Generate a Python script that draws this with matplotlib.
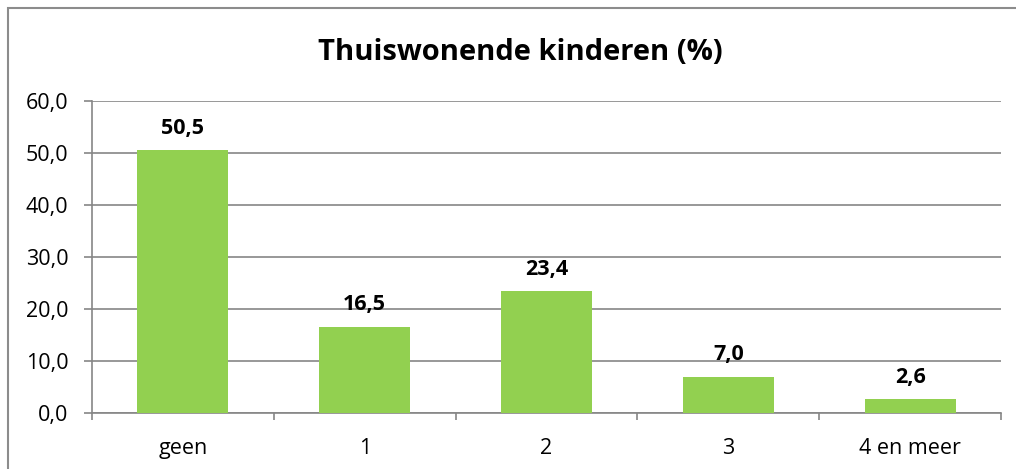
import matplotlib.pyplot as plt
from matplotlib.patches import Rectangle

categories = ['geen', '1', '2', '3', '4 en meer']
values = [50.5, 16.5, 23.4, 7.0, 2.6]
y_ticks = [0, 10, 20, 30, 40, 50, 60]

plt.rcParams['font.family'] = ['Open Sans', 'DejaVu Sans']

fig = plt.figure(figsize=(10.16, 4.69), dpi=100)
ax = fig.add_axes([92 / 1016, 1 - 413 / 469, (1001 - 92) / 1016, (413 - 101) / 469])

grid_col = '#868686'
x = range(len(categories))
ax.bar(x, values, width=0.5, color='#92D050', zorder=3)
for xi, v in zip(x, values):
    ax.annotate(f'{v:.1f}'.replace('.', ','), (xi, v), xytext=(0, 16), textcoords='offset points',
                ha='center', va='center', fontsize=15.5, fontweight='bold', color='black')

ax.set_xlim(-0.5, len(categories) - 0.5)
ax.set_ylim(0, 60)
ax.set_yticks(y_ticks)
ax.set_yticklabels([f'{t:.1f}'.replace('.', ',') for t in y_ticks], fontsize=15.5)
ax.set_xticks(list(x))
ax.set_xticklabels(categories, fontsize=15.5)
ax.set_xticks([i - 0.5 for i in range(len(categories) + 1)], minor=True)
ax.tick_params(axis='x', which='major', length=0, pad=18)
ax.tick_params(axis='x', which='minor', length=5, color=grid_col, width=1.2)
ax.tick_params(axis='y', length=6, color=grid_col, width=1.2, pad=11)
ax.yaxis.grid(True, color=grid_col, linewidth=1.2, zorder=0)
for s in ['top', 'right']:
    ax.spines[s].set_visible(False)
for s in ['left', 'bottom']:
    ax.spines[s].set_color(grid_col)
    ax.spines[s].set_linewidth(1.2)

fig.text(520 / 1016, 1 - 53 / 469, 'Thuiswonende kinderen (%)', ha='center', va='center',
         fontsize=21, fontweight='bold')

fig.patches.append(Rectangle((8 / 1016, -0.1), 1.2, 1 - 8 / 469 + 0.1, transform=fig.transFigure,
                             fill=False, edgecolor='#8c8c8c', linewidth=1.5))

fig.savefig('out.png', dpi=100)
